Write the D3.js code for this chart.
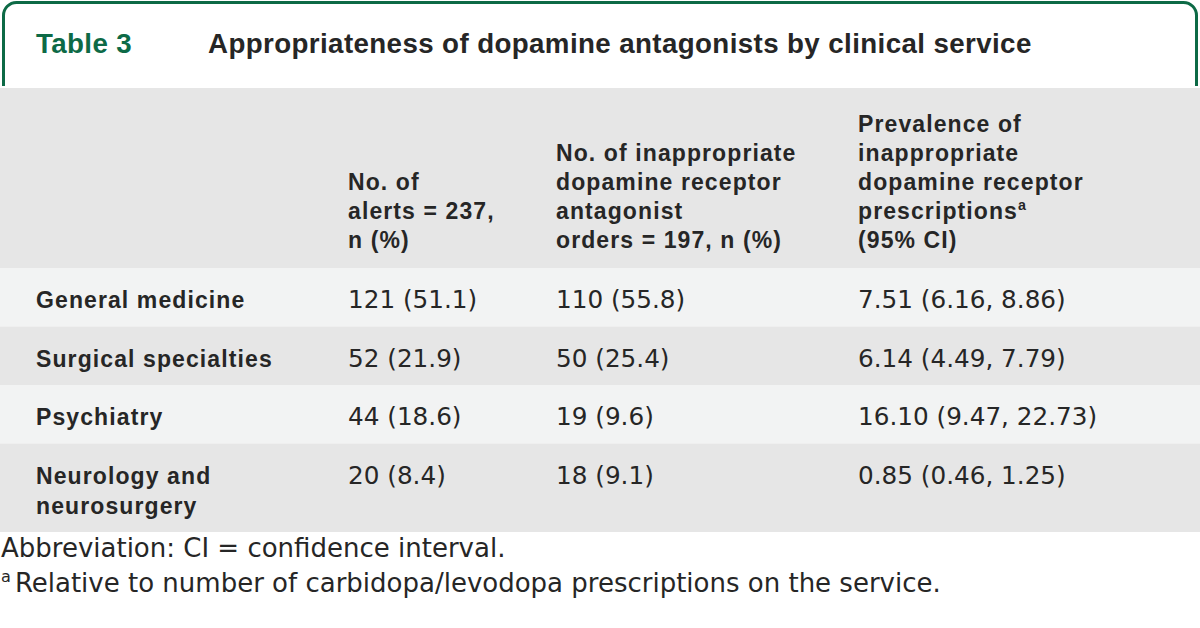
<!DOCTYPE html>
<html><head><meta charset="utf-8">
<script src="https://cdn.jsdelivr.net/npm/d3@7"></script>
<style>
html,body{margin:0;padding:0;background:#fff;}
svg{display:block;}
</style></head>
<body>
<svg id="c" width="1200" height="628"></svg>
<script>
// ---- data ----
const tableLabel = "Table 3";
const tableTitle = "Appropriateness of dopamine antagonists by clinical service";
const columnHeaders = [
  [""],
  ["No. of", "alerts = 237,", "n (%)"],
  ["No. of inappropriate", "dopamine receptor", "antagonist", "orders = 197, n (%)"],
  ["Prevalence of", "inappropriate", "dopamine receptor", "prescriptions^a", "(95% CI)"]
];
const services = [["General medicine"], ["Surgical specialties"], ["Psychiatry"], ["Neurology and", "neurosurgery"]];
const alertsN = [121, 52, 44, 20];
const alertsPct = [51.1, 21.9, 18.6, 8.4];
const ordersN = [110, 50, 19, 18];
const ordersPct = [55.8, 25.4, 9.6, 9.1];
const prevalence = [7.51, 6.14, 16.10, 0.85];
const ciLow = [6.16, 4.49, 9.47, 0.46];
const ciHigh = [8.86, 7.79, 22.73, 1.25];
const footnotes = ["Abbreviation: CI = confidence interval.", "^aRelative to number of carbidopa/levodopa prescriptions on the service."];

// ---- layout ----
const W = 1200;
const green = "#0d6a46", ink = "#262626";
const boldFont = "'Liberation Sans', Arial, sans-serif";
const regFont = "'DejaVu Sans', sans-serif";
const svg = d3.select("#c");

const f1 = d3.format(".1f"), f2 = d3.format(".2f");
const rows = services.map((s, i) => ({
  label: s,
  cells: [
    `${alertsN[i]} (${f1(alertsPct[i])})`,
    `${ordersN[i]} (${f1(ordersPct[i])})`,
    `${f2(prevalence[i])} (${f2(ciLow[i])}, ${f2(ciHigh[i])})`
  ]
}));

const colX = d3.scaleOrdinal().domain([0, 1, 2, 3]).range([36, 348, 556, 858]);
const lineH = 30;
const headTop = 88, headBottom = 268;
let y0 = headBottom;
rows.forEach(r => { r.top = y0; r.h = 28.5 + lineH * r.label.length; y0 += r.h; });
const bodyBottom = y0;

// title box border
const bx0 = 3.5, bx1 = 1196.5, by0 = 2.5, by1 = 86, rad = 13;
svg.append("path")
  .attr("d", `M${bx0},${by1} L${bx0},${by0 + rad} A${rad},${rad} 0 0 1 ${bx0 + rad},${by0} L${bx1 - rad},${by0} A${rad},${rad} 0 0 1 ${bx1},${by0 + rad} L${bx1},${by1}`)
  .attr("fill", "none").attr("stroke", green).attr("stroke-width", 3);

svg.append("text").attr("x", 36).attr("y", 53)
  .attr("font-family", boldFont).attr("font-weight", "bold").attr("font-size", 27.7)
  .attr("letter-spacing", 0.4).attr("fill", green).text(tableLabel);
svg.append("text").attr("x", 208).attr("y", 53)
  .attr("font-family", boldFont).attr("font-weight", "bold").attr("font-size", 27.7)
  .attr("letter-spacing", 0.4).attr("fill", ink).text(tableTitle);

// header background
svg.append("rect").attr("x", 0).attr("y", headTop).attr("width", W).attr("height", headBottom - headTop).attr("fill", "#e6e6e6");

// body backgrounds
svg.selectAll("rect.row").data(rows).join("rect").attr("class", "row")
  .attr("x", 0).attr("y", d => d.top).attr("width", W).attr("height", d => d.h)
  .attr("fill", (d, i) => i % 2 === 0 ? "#f2f3f3" : "#e6e6e6");

function addSup(textSel, str, size, gap) {
  const parts = str.split("^");
  if (parts.length === 1) { textSel.append("tspan").text(str); return; }
  if (parts[0] === "") {
    textSel.append("tspan").attr("font-size", size * 0.62).attr("dy", -10).text(parts[1][0]);
    textSel.append("tspan").attr("dy", 10).attr("dx", gap || 0).text(parts[1].slice(1));
  } else {
    textSel.append("tspan").text(parts[0]);
    textSel.append("tspan").attr("font-size", size * 0.62).attr("dy", -9).text(parts[1]);
  }
}

// header text (bottom aligned)
const headLast = 248, headLine = 29;
columnHeaders.forEach((lines, ci) => {
  lines.forEach((ln, li) => {
    if (!ln) return;
    const t = svg.append("text").attr("x", colX(ci)).attr("y", headLast - (lines.length - 1 - li) * headLine)
      .attr("font-family", boldFont).attr("font-weight", "bold").attr("font-size", 23)
      .attr("letter-spacing", 1.1).attr("fill", ink);
    addSup(t, ln, 23);
  });
});

// body text
rows.forEach(r => {
  r.label.forEach((ln, li) => {
    svg.append("text").attr("x", colX(0)).attr("y", r.top + 40 + li * lineH)
      .attr("font-family", boldFont).attr("font-weight", "bold").attr("font-size", 23)
      .attr("letter-spacing", 1.1).attr("fill", ink).text(ln);
  });
  r.cells.forEach((c, ci) => {
    svg.append("text").attr("x", colX(ci + 1)).attr("y", r.top + 40)
      .attr("font-family", regFont).attr("font-size", 24.7)
      .attr("fill", ink).text(c);
  });
});

// footnotes
footnotes.forEach((fn, i) => {
  const t = svg.append("text").attr("x", 1).attr("y", bodyBottom + 25 + i * 35)
    .attr("font-family", regFont).attr("font-size", 26)
    .attr("fill", ink);
  addSup(t, fn, 26, 4);
});
</script>
</body></html>
